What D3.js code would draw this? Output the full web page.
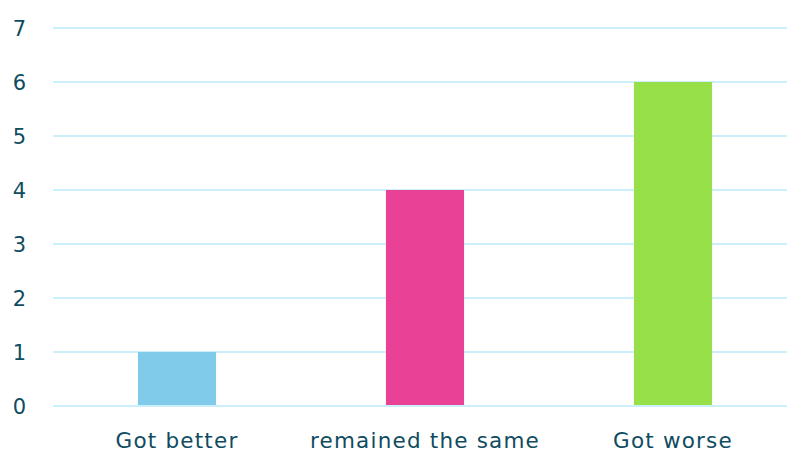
<!DOCTYPE html>
<html><head><meta charset="utf-8">
<script src="https://cdn.jsdelivr.net/npm/d3@7"></script>
<style>body{margin:0;background:#fff}svg{display:block}</style>
</head><body>
<svg id="c" width="787" height="452"></svg>
<script>
const categories = ["Got better", "remained the same", "Got worse"];
const values = [1, 4, 6];
const colors = ["#80cbea", "#e84195", "#98e04a"];
const yTicks = [0, 1, 2, 3, 4, 5, 6, 7];

const svg = d3.select("#c");
const x = d3.scaleBand().domain(categories).range([53, 797]).paddingInner(0.685).paddingOuter(0.3425);
const y = d3.scaleLinear().domain([0, 7]).range([406, 28]);
const textColor = "#0f4c5f";
const font = "'DejaVu Sans', sans-serif";

svg.append("g").selectAll("line").data(yTicks).join("line")
  .attr("x1", 53).attr("x2", 787)
  .attr("y1", d => y(d)).attr("y2", d => y(d))
  .attr("stroke", "#cbf0fb").attr("stroke-width", 2);

svg.append("g").selectAll("text").data(yTicks).join("text")
  .attr("x", 26).attr("y", d => y(d)).attr("dy", "0.36em")
  .attr("text-anchor", "end").attr("fill", textColor)
  .attr("font-family", font).attr("font-size", 21)
  .text(d => d);

svg.append("g").selectAll("rect").data(values).join("rect")
  .attr("x", (d, i) => x(categories[i]))
  .attr("width", x.bandwidth())
  .attr("y", d => y(d))
  .attr("height", d => y(0) - y(d) - 1)
  .attr("fill", (d, i) => colors[i]);

svg.append("g").selectAll("text").data(categories).join("text")
  .attr("x", d => x(d) + x.bandwidth() / 2).attr("y", 448)
  .attr("text-anchor", "middle").attr("fill", textColor)
  .attr("font-family", font).attr("font-size", 21.5)
  .attr("letter-spacing", "1.2px")
  .text(d => d);
</script>
</body></html>
